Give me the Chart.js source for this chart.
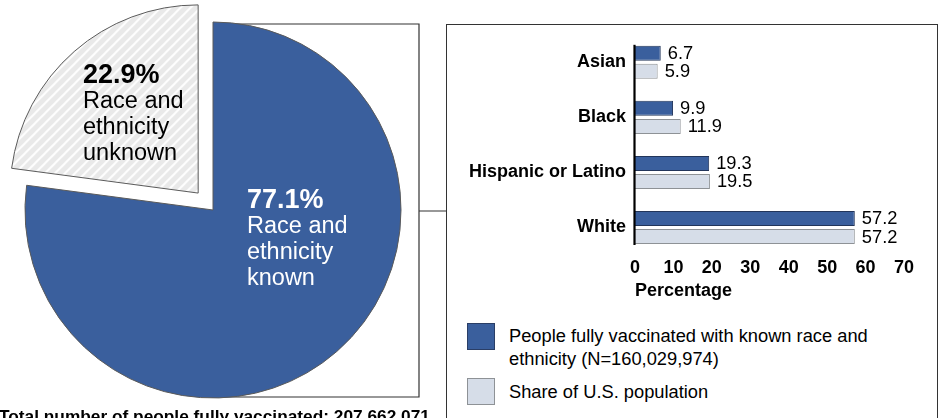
<!DOCTYPE html>
<html>
<head>
<meta charset="utf-8">
<script src="https://cdn.jsdelivr.net/npm/chart.js@4.4.0/dist/chart.umd.min.js"></script>
<style>
  html, body { margin: 0; padding: 0; background: #fff; overflow: hidden; }
  body { width: 943px; height: 418px; position: relative; font-family: "Liberation Sans", Arial, sans-serif; color: #000; }
  #pieChart { position: absolute; left: 0; top: 0; }
  #barChart { position: absolute; left: 447px; top: 15px; }
  #box { position: absolute; left: 446px; top: 24px; width: 492px; height: 500px; border: 1.5px solid #333; box-sizing: border-box; }
  .lbl { position: absolute; white-space: nowrap; }
  .pct { font-weight: bold; font-size: 27px; line-height: 26px; }
  .txt { font-size: 23.5px; line-height: 26px; }
  .legend-item { position: absolute; left: 467px; }
  .swatch { position: absolute; left: 0; width: 28px; height: 27px; box-sizing: border-box; }
  .legend-text { position: absolute; left: 42px; font-size: 18.3px; line-height: 23px; white-space: nowrap; }
  #caption { position: absolute; left: -1px; top: 406px; font-weight: bold; font-size: 17.3px; white-space: nowrap; }
</style>
</head>
<body>
<div id="box"></div>
<canvas id="pieChart" width="450" height="420"></canvas>
<canvas id="barChart" width="491" height="290"></canvas>

<div class="lbl" style="left:83px; top:61px;">
  <div class="pct">22.9%</div>
  <div class="txt">Race and<br>ethnicity<br>unknown</div>
</div>
<div class="lbl" style="left:247px; top:186px; color:#fff;">
  <div class="pct">77.1%</div>
  <div class="txt">Race and<br>ethnicity<br>known</div>
</div>

<div class="legend-item" style="top:323px;">
  <div class="swatch" style="background:#3a5f9d; border:1px solid #2a3e66;"></div>
  <div class="legend-text" style="top:1px;">People fully vaccinated with known race and<br>ethnicity (N=160,029,974)</div>
</div>
<div class="legend-item" style="top:378px;">
  <div class="swatch" style="background:#d6dde8; border:1px solid #8e9296;"></div>
  <div class="legend-text" style="top:2px;">Share of U.S. population</div>
</div>

<div id="caption">Total number of people fully vaccinated: 207,662,071</div>

<script>
// Dados do gráfico de pizza
const pieLabels = ['Race and ethnicity known', 'Race and ethnicity unknown'];
const pieValues = [77.1, 22.9];

// Dados do gráfico de barras
const groups = ['Asian', 'Black', 'Hispanic or Latino', 'White'];
const vaccinated = [6.7, 9.9, 19.3, 57.2];
const population = [5.9, 11.9, 19.5, 57.2];
const seriesNames = ['People fully vaccinated with known race and ethnicity (N=160,029,974)', 'Share of U.S. population'];

const BLUE = '#3a5f9d';
const GRAY = '#d6dde8';

// Padrão listrado para a fatia "unknown"
function stripePattern() {
  var c = document.createElement('canvas');
  c.width = 10; c.height = 10;
  var g = c.getContext('2d');
  g.fillStyle = '#e9e9e9';
  g.fillRect(0, 0, 10, 10);
  g.strokeStyle = '#ffffff';
  g.lineWidth = 2;
  g.beginPath();
  g.moveTo(-2, 12); g.lineTo(12, -2);
  g.moveTo(-2, 2); g.lineTo(2, -2);
  g.moveTo(8, 12); g.lineTo(12, 8);
  g.stroke();
  return g.createPattern(c, 'repeat');
}

// Linhas que ligam a pizza à caixa das barras
const connectorPlugin = {
  id: 'connector',
  beforeDatasetsDraw(chart) {
    const ctx = chart.ctx;
    const meta = chart.getDatasetMeta(0).data[0];
    const cx = meta.x, cy = meta.y, r = meta.outerRadius;
    const top = cy - r + 2, bottom = cy + r - 1, right = 419;
    ctx.save();
    ctx.strokeStyle = '#333';
    ctx.lineWidth = 1.2;
    ctx.beginPath();
    ctx.moveTo(cx, top); ctx.lineTo(right, top);
    ctx.lineTo(right, bottom); ctx.lineTo(cx, bottom);
    ctx.moveTo(right, cy + 1); ctx.lineTo(447, cy + 1);
    ctx.stroke();
    ctx.restore();
  }
};

new Chart(document.getElementById('pieChart'), {
  type: 'pie',
  data: {
    labels: pieLabels,
    datasets: [{
      data: pieValues,
      backgroundColor: [BLUE, stripePattern()],
      borderColor: '#5a5a5a',
      borderWidth: 1,
      offset: [0, 90],
    }],
  },
  options: {
    responsive: false,
    animation: false,
    radius: 188,
    layout: { padding: { right: 24 } },
    events: [],
    plugins: { legend: { display: false }, tooltip: { enabled: false } },
  },
  plugins: [connectorPlugin],
});

// Rótulos de valor ao lado das barras e linha do eixo
const barLabelPlugin = {
  id: 'barLabels',
  afterDatasetsDraw(chart) {
    const ctx = chart.ctx;
    ctx.save();
    ctx.font = '18.3px "Liberation Sans", Arial, sans-serif';
    ctx.fillStyle = '#000';
    ctx.textBaseline = 'middle';
    ctx.textAlign = 'left';
    chart.data.datasets.forEach(function (ds, i) {
      chart.getDatasetMeta(i).data.forEach(function (bar, j) {
        ctx.fillText(ds.data[j].toFixed(1), bar.x + 7, bar.y + 1);
      });
    });
    // linha do eixo y, do topo da primeira barra à base da última
    const first = chart.getDatasetMeta(0).data[0];
    const last = chart.getDatasetMeta(1).data[groups.length - 1];
    ctx.strokeStyle = '#000';
    ctx.lineWidth = 2.2;
    ctx.beginPath();
    ctx.moveTo(chart.chartArea.left - 0.5, first.y - first.height / 2 - 1);
    ctx.lineTo(chart.chartArea.left - 0.5, last.y + last.height / 2 + 1);
    ctx.stroke();
    ctx.restore();
  }
};

const boldFont = { family: '"Liberation Sans", Arial, sans-serif', size: 18, weight: 'bold' };

new Chart(document.getElementById('barChart'), {
  type: 'bar',
  data: {
    labels: groups,
    datasets: [
      { label: seriesNames[0], data: vaccinated, backgroundColor: BLUE, borderColor: '#22355a', borderWidth: 1 },
      { label: seriesNames[1], data: population, backgroundColor: GRAY, borderColor: '#8e9296', borderWidth: 1 },
    ],
  },
  options: {
    indexAxis: 'y',
    responsive: false,
    animation: false,
    events: [],
    categoryPercentage: 0.655,
    barPercentage: 0.833,
    layout: { padding: { top: 2, right: 34, left: 0, bottom: 0 } },
    plugins: { legend: { display: false }, tooltip: { enabled: false } },
    scales: {
      x: {
        min: 0,
        max: 70,
        ticks: { stepSize: 10, font: boldFont, color: '#000', padding: 2, maxRotation: 0 },
        grid: { display: false, drawTicks: false },
        border: { display: false },
        title: { display: true, text: 'Percentage', align: 'start', font: boldFont, color: '#000', padding: { top: 4, bottom: 3 } },
        afterFit: function (s) { s.height = 50; },
      },
      y: {
        ticks: { font: boldFont, color: '#000', padding: 9 },
        grid: { display: false, drawTicks: false },
        border: { display: false },
        afterFit: function (s) { s.width = 188; },
      },
    },
  },
  plugins: [barLabelPlugin],
});
</script>
</body>
</html>
